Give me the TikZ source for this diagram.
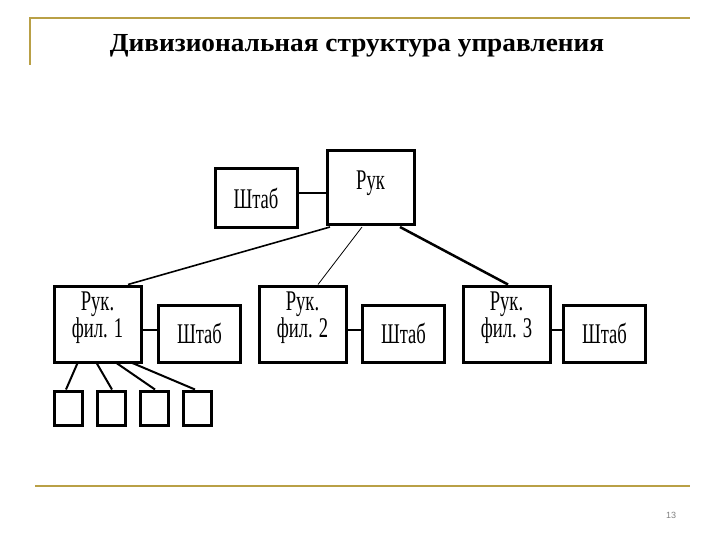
\documentclass[tikz,border=0pt]{standalone}
\usepackage{fontspec}
\setmainfont{Liberation Serif}
\newfontfamily\sansf{Liberation Sans}
\definecolor{gold}{RGB}{185,160,70}
\begin{document}
\begin{tikzpicture}[x=1pt,y=-1pt,
  bx/.style={draw,line width=3pt,fill=white,inner sep=0pt},
  lab/.style={font=\fontsize{30}{25}\selectfont,xscale=0.62,yscale=0.95,align=center},
  ln/.style={line width=1.3pt}]
\useasboundingbox (0,0) rectangle (720,540);
\draw[gold,line width=1.5pt] (30,65) -- (30,18) -- (690,18);
\draw[gold,line width=1.5pt] (35,486) -- (690,486);
\node[font=\bfseries\fontsize{26}{28}\selectfont,xscale=1.05] (title) at (357,46) {Дивизиональная структура управления};
\node[font=\sansf\fontsize{9}{10}\selectfont,text=gray] (pg) at (671,515) {13};
% boxes
\node[bx,minimum width=87pt,minimum height=74pt] (r) at (370.5,188) {};
\node[lab] at (370.5,183) {Рук};
\node[bx,minimum width=82pt,minimum height=59pt] (s) at (256,198.5) {};
\node[lab] at (s) {Штаб};
\foreach \i/\x/\sx in {1/97.5/199.5,2/302.5/403.5,3/506.5/604.5}{
  \node[bx,minimum width=87pt,minimum height=76pt] (f\i) at (\x,324) {};
  \node[lab] at (\x,318) {Рук.\\фил. \i};
  \node[bx,minimum width=82pt,minimum height=57pt] (s\i) at (\sx,333.5) {};
  \node[lab] at (s\i) {Штаб};
  \draw[ln] (f\i.east |- 0,330) -- (s\i.west |- 0,330);
}
\foreach \j/\x in {1/68,2/111,3/154,4/197}{
  \node[bx,minimum width=28pt,minimum height=34pt] (q\j) at (\x,408) {};
}
\draw[ln] (s.east |- 0,193) -- (r.west |- 0,193);
\coordinate (ra) at (330,227);
\coordinate (rb) at (362,227);
\coordinate (rc) at (400,227);
\draw[line width=1.6pt] (ra) -- (f1.north -| 128,0);
\draw[line width=0.8pt] (rb) -- (f2.north -| 318,0);
\draw[line width=2.5pt] (rc) -- (f3.north -| 508,0);
\draw[line width=2pt] (78,362) -- (q1.north -| 66,0);
\draw[line width=2pt] (96,362) -- (q2.north -| 112,0);
\draw[line width=2pt] (115,362) -- (q3.north -| 155,0);
\draw[line width=2pt] (130,362) -- (q4.north -| 195,0);
\end{tikzpicture}
\end{document}
